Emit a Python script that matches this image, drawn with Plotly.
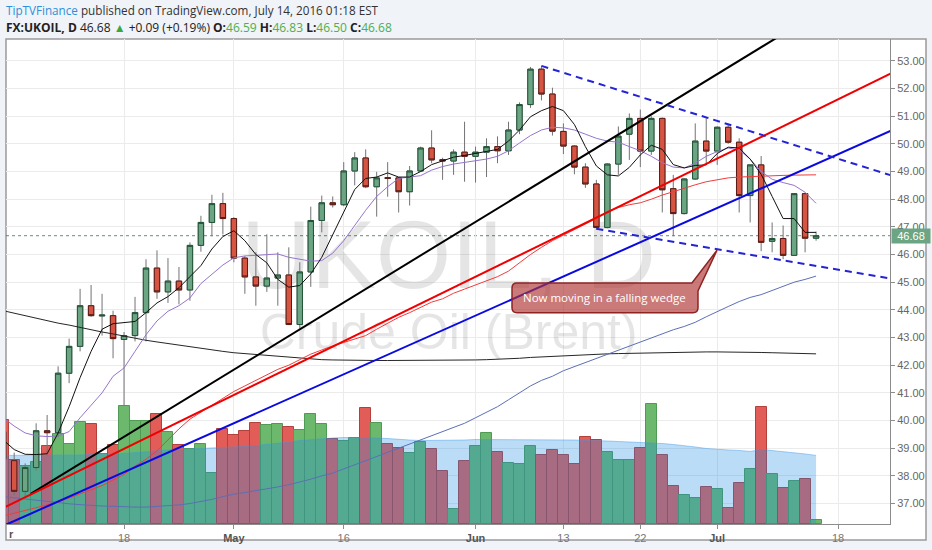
import plotly.graph_objects as go
import pandas as pd

# ---------------- data ----------------
calendar = [d.strftime("%Y-%m-%d") for d in pd.bdate_range("2016-04-01", "2016-07-29")]
n_bars = 75
dates = calendar[:n_bars]          # 2016-04-01 .. 2016-07-14 (weekdays)

opens = [39.60, 38.55, 37.44, 38.30, 39.63, 39.56, 41.71, 42.68, 44.15, 43.78,
         43.79, 42.93, 43.07, 43.90, 45.51, 44.65, 45.04, 44.72, 46.33, 47.16,
         47.84, 47.30, 45.87, 45.19, 44.86, 45.15, 45.26, 43.47, 45.37, 47.23,
         47.87, 47.80, 49.02, 49.49, 48.45, 48.78, 48.77, 48.27, 49.02, 49.85,
         49.43, 49.38, 49.70, 49.55, 49.70, 49.90, 49.75, 50.50, 51.42, 52.70,
         51.80, 50.45, 49.92, 49.16, 48.55, 46.98, 49.27, 50.35, 50.92, 49.74,
         50.92, 48.38, 47.48, 48.73, 50.10, 49.74, 50.60, 50.06, 48.13, 49.24,
         46.48, 46.58, 45.97, 48.20, 46.59]
highs = [39.90, 38.84, 38.45, 39.90, 40.20, 41.96, 42.96, 44.76, 44.90, 44.58,
         43.97, 43.20, 44.47, 45.83, 46.15, 45.87, 45.55, 46.44, 47.40, 48.16,
         48.23, 47.35, 45.95, 46.08, 46.73, 46.08, 46.26, 45.72, 47.73, 48.13,
         48.10, 49.34, 49.70, 49.80, 48.99, 49.34, 48.80, 49.20, 49.90, 50.49,
         49.50, 49.80, 50.80, 49.90, 50.20, 50.27, 50.80, 51.50, 52.78, 52.82,
         52.03, 50.74, 49.95, 49.30, 48.70, 49.30, 50.63, 51.10, 51.24, 51.00,
         50.95, 48.88, 48.75, 50.74, 50.96, 50.63, 50.70, 50.20, 49.24, 49.56,
         47.16, 47.05, 48.20, 48.23, 46.83]
lows = [38.40, 37.30, 37.25, 38.20, 38.73, 39.40, 41.35, 42.50, 43.75, 43.07,
        42.25, 40.55, 42.86, 42.86, 44.40, 44.25, 44.20, 44.33, 46.10, 46.66,
        46.73, 45.72, 44.58, 44.15, 44.65, 44.15, 43.45, 43.32, 44.83, 46.80,
        47.70, 47.75, 48.50, 48.40, 47.37, 48.09, 47.52, 47.77, 49.00, 49.30,
        48.70, 48.88, 48.63, 48.60, 48.80, 49.30, 49.60, 50.35, 51.30, 51.57,
        50.30, 49.63, 48.90, 48.41, 46.90, 46.95, 48.88, 49.42, 49.16, 49.60,
        47.52, 46.66, 47.45, 48.70, 49.30, 49.24, 50.00, 47.52, 47.16, 46.12,
        46.08, 45.83, 45.95, 46.08, 46.50]
closes = [38.60, 37.44, 38.30, 39.63, 39.56, 41.71, 42.68, 44.15, 43.79, 43.81,
          42.96, 43.07, 43.90, 45.51, 44.65, 45.04, 44.72, 46.33, 47.16, 47.84,
          47.30, 45.87, 45.19, 44.86, 45.15, 45.26, 43.47, 45.37, 47.23, 47.87,
          47.80, 49.02, 49.49, 48.45, 48.77, 48.75, 48.27, 49.02, 49.85, 49.42,
          49.38, 49.70, 49.55, 49.70, 49.90, 49.75, 50.50, 51.42, 52.70, 51.80,
          50.46, 49.92, 49.16, 48.55, 46.98, 49.27, 50.28, 50.92, 49.74, 50.92,
          48.34, 47.48, 48.73, 50.10, 49.74, 50.60, 50.06, 48.13, 49.24, 46.44,
          46.58, 45.97, 48.20, 46.59, 46.68]

# volume (arbitrary units, thousands)
volume = [105, 64, 58, 62, 78, 91, 80, 103, 101, 70,
          79, 119, 104, 104, 111, 93, 79, 75, 80, 51,
          96, 90, 94, 102, 100, 101, 98, 95, 111, 101,
          86, 84, 87, 117, 102, 80, 76, 71, 83, 75,
          53, 15, 63, 78, 92, 72, 61, 60, 78, 69,
          74, 69, 60, 88, 85, 72, 64, 64, 76, 121,
          69, 38, 29, 26, 37, 35, 16, 41, 55, 118,
          50, 36, 43, 45, 4]
volume_ma = [69, 69, 69, 69, 69, 69, 69, 69.5, 70, 70,
             70.5, 71, 72, 73, 74, 74.5, 75, 75.5, 76, 76,
             76.5, 77, 78, 79, 80, 81, 82.5, 84, 85, 86,
             86.5, 87, 87, 87, 86.5, 86, 85, 84.5, 84, 84,
             84, 84, 84.5, 85, 85, 85, 85, 85, 85, 85,
             85, 85, 84.5, 84, 84, 83.5, 83, 82.5, 82, 82,
             81, 80, 79, 77.5, 76, 75, 74.5, 74, 73, 75,
             74, 73, 72, 70.5, 69]

ma5 = [39.30, 38.95, 38.78, 38.77, 38.80, 39.55, 40.50, 41.55, 42.50, 43.30,
       43.50, 43.55, 43.58, 43.90, 44.25, 44.48, 44.80, 45.20, 45.60, 46.20,
       46.65, 46.86, 46.50, 46.00, 45.70, 45.10, 44.82, 44.88, 45.30, 45.90,
       46.70, 47.55, 48.35, 48.75, 48.80, 48.95, 48.80, 48.80, 49.00, 49.25,
       49.38, 49.52, 49.58, 49.65, 49.72, 49.80, 50.10, 50.50, 50.98, 51.20,
       51.35, 51.20, 50.70, 49.90, 49.20, 48.88, 48.84, 49.15, 49.60, 49.95,
       49.80, 49.25, 49.13, 49.22, 49.24, 49.65, 49.88, 49.85, 49.45, 48.90,
       48.10, 47.30, 47.30, 46.80, 46.80]
ma10 = [40.10, 39.80, 39.55, 39.45, 39.42, 39.44, 39.60, 40.10, 40.55, 41.00,
        41.60, 41.90, 42.50, 43.10, 43.60, 43.95, 44.15, 44.43, 44.95, 45.30,
        45.62, 45.88, 45.95, 45.97, 46.00, 46.02, 45.90, 45.82, 45.76, 45.78,
        46.05, 46.50, 47.05, 47.60, 48.10, 48.45, 48.75, 48.80, 48.85, 49.05,
        49.18, 49.27, 49.33, 49.40, 49.45, 49.55, 49.75, 50.03, 50.30, 50.50,
        50.60, 50.58, 50.50, 50.35, 50.20, 50.10, 50.06, 49.90, 49.75, 49.55,
        49.32, 49.16, 49.13, 49.30, 49.55, 49.72, 49.85, 49.78, 49.45, 49.00,
        48.72, 48.60, 48.50, 48.25, 47.85]
ma50 = [36.55, 36.65, 36.75, 36.85, 36.95, 37.05, 37.20, 37.35, 37.50, 37.65,
        37.85, 38.05, 38.35, 38.60, 38.90, 39.30, 39.70, 40.05, 40.30, 40.55,
        40.80, 41.05, 41.25, 41.45, 41.64, 41.85, 42.00, 42.20, 42.40, 42.55,
        42.70, 42.82, 42.95, 43.07, 43.30, 43.50, 43.73, 43.90, 44.10, 44.28,
        44.40, 44.60, 44.75, 44.90, 45.05, 45.20, 45.40, 45.70, 46.00, 46.26,
        46.50, 46.70, 46.90, 47.10, 47.30, 47.55, 47.70, 47.80, 47.87, 48.00,
        48.15, 48.27, 48.40, 48.52, 48.63, 48.70, 48.77, 48.80, 48.82, 48.84,
        48.85, 48.86, 48.87, 48.88, 48.88]
ma100 = [37.25, 37.20, 37.15, 37.12, 37.08, 37.03, 36.99, 36.96, 36.93, 36.91,
         36.90, 36.88, 36.87, 36.87, 36.89, 36.92, 36.95, 37.00, 37.07, 37.15,
         37.25, 37.34, 37.40, 37.46, 37.52, 37.60, 37.68, 37.77, 37.88, 38.00,
         38.10, 38.25, 38.40, 38.55, 38.70, 38.85, 39.00, 39.15, 39.30, 39.47,
         39.60, 39.75, 39.90, 40.10, 40.30, 40.50, 40.75, 41.00, 41.25, 41.45,
         41.60, 41.80, 41.95, 42.10, 42.25, 42.40, 42.55, 42.70, 42.85, 43.00,
         43.15, 43.28, 43.40, 43.55, 43.75, 43.95, 44.12, 44.30, 44.45, 44.55,
         44.70, 44.85, 45.00, 45.10, 45.22]
ma200 = [43.97, 43.88, 43.78, 43.68, 43.60, 43.52, 43.45, 43.36, 43.28, 43.20,
         43.13, 43.05, 42.98, 42.90, 42.84, 42.78, 42.73, 42.67, 42.60, 42.54,
         42.50, 42.45, 42.42, 42.38, 42.34, 42.31, 42.28, 42.25, 42.23, 42.20,
         42.19, 42.18, 42.18, 42.17, 42.17, 42.17, 42.17, 42.17, 42.17, 42.17,
         42.17, 42.18, 42.18, 42.19, 42.20, 42.21, 42.23, 42.25, 42.28, 42.30,
         42.33, 42.35, 42.37, 42.38, 42.40, 42.41, 42.42, 42.43, 42.44, 42.45,
         42.46, 42.47, 42.47, 42.48, 42.48, 42.48, 42.48, 42.47, 42.47, 42.46,
         42.45, 42.44, 42.43, 42.42, 42.41]

# hand-drawn trend lines: (bar position, price) end points
trend_black_x, trend_black_y = [2.5, 76.0], [37.35, 55.19]
trend_red_x, trend_red_y = [0.0, 81.0], [36.84, 52.58]
trend_blue_x, trend_blue_y = [0.0, 81.0], [36.19, 50.51]
wedge_top_x, wedge_top_y = [49.0, 81.0], [52.82, 48.84]
wedge_bot_x, wedge_bot_y = [54.0, 81.0], [46.93, 45.12]

tick_dates = ["2016-04-18", "2016-05-02", "2016-05-16", "2016-06-01",
              "2016-06-13", "2016-06-22", "2016-07-01", "2016-07-18"]
tick_labels = ["18", "May", "16", "Jun", "13", "22", "Jul", "18"]
price_ticks = list(range(37, 54))
last_price = 46.68

# ---------------- figure ----------------
xs = list(range(n_bars))
pos = {d: i for i, d in enumerate(calendar)}
tickvals = [pos[d] for d in tick_dates]
ticktext = []
for t in tick_labels:
    if t.isalpha():
        ticktext.append("<b><span style='color:#555'>%s</span></b>" % t)
    else:
        ticktext.append("<span style='color:#777'>%s</span>" % t)

up = [c >= o for o, c in zip(opens, closes)]
vol_colors = ["#6cb86c" if u else "#e25d58" for u in up]
vol_lines = ["#4f9a55" if u else "#b2403c" for u in up]

fig = go.Figure()

# watermark (base layer)
fig.add_trace(go.Scatter(x=[40.55], y=[262], text=["UKOIL, D"], mode="text",
                         textfont=dict(size=97, color="rgba(0,0,0,0.10)", family="Liberation Sans"),
                         hoverinfo="skip", showlegend=False, yaxis="y"))
fig.add_trace(go.Scatter(x=[40.55], y=[189], text=["Crude Oil (Brent)"], mode="text",
                         textfont=dict(size=50, color="rgba(0,0,0,0.10)", family="Liberation Sans"),
                         hoverinfo="skip", showlegend=False, yaxis="y"))

# volume + volume MA
fig.add_trace(go.Bar(x=xs, y=volume, width=1.0, marker=dict(color=vol_colors, line=dict(color=vol_lines, width=1)),
                     showlegend=False, yaxis="y"))
fig.add_trace(go.Scatter(x=xs, y=volume_ma, mode="lines", fill="tozeroy",
                         fillcolor="rgba(30,140,230,0.30)", line=dict(color="rgba(60,150,230,0.45)", width=1),
                         showlegend=False, yaxis="y"))

# candles: wicks (grey) then bodies
fig.add_trace(go.Candlestick(x=xs, open=opens, high=highs, low=lows, close=closes, yaxis="y2",
                             increasing=dict(line=dict(color="#737375", width=1), fillcolor="#737375"),
                             decreasing=dict(line=dict(color="#737375", width=1), fillcolor="#737375"),
                             whiskerwidth=0, showlegend=False, hoverinfo="skip"))
fig.add_trace(go.Candlestick(x=xs, open=opens, close=closes,
                             high=[max(o, c) for o, c in zip(opens, closes)],
                             low=[min(o, c) for o, c in zip(opens, closes)], yaxis="y2",
                             increasing=dict(line=dict(color="#225437", width=1), fillcolor="#6ba583"),
                             decreasing=dict(line=dict(color="#5b1a13", width=1), fillcolor="#d75442"),
                             whiskerwidth=0, showlegend=False))

# moving averages
for ys, col in [(ma200, "#262626"), (ma100, "#5b6fb5"), (ma50, "#f03c3c"), (ma10, "#9575cd"), (ma5, "#111111")]:
    fig.add_trace(go.Scatter(x=xs, y=ys, mode="lines", line=dict(color=col, width=1),
                             showlegend=False, yaxis="y2", hoverinfo="skip"))

# trend lines
for tx, ty, col, dash in [(trend_black_x, trend_black_y, "#000000", "solid"),
                          (trend_red_x, trend_red_y, "#f00000", "solid"),
                          (trend_blue_x, trend_blue_y, "#0a0ae0", "solid"),
                          (wedge_top_x, wedge_top_y, "#2424d6", "7px,5px"),
                          (wedge_bot_x, wedge_bot_y, "#2424d6", "7px,5px")]:
    fig.add_trace(go.Scatter(x=tx, y=ty, mode="lines", line=dict(color=col, width=2, dash=dash),
                             showlegend=False, yaxis="y2", hoverinfo="skip"))

# ---------------- layout ----------------
W, H = 932, 550
ml, mr, mt, mb = 6, 42, 39, 23
pw, ph = W - ml - mr, H - mt - mb

def px_x(p):
    return (p - ml) / pw

def px_y(p):
    return (H - mb - p) / ph

grid = "#ebebeb"
axis_col = "#8c8c8c"

fig.update_layout(
    width=W, height=H, margin=dict(l=ml, r=mr, t=mt, b=mb, pad=0),
    paper_bgcolor="#f0f3f8", plot_bgcolor="#ffffff",
    showlegend=False, bargap=0,
    font=dict(family="Liberation Sans", size=11, color="#555"),
    xaxis=dict(range=[0.255, 80.73], tickvals=tickvals, ticktext=ticktext,
               showgrid=True, gridcolor=grid, gridwidth=1, zeroline=False,
               showline=True, linecolor=axis_col, linewidth=1,
               ticks="outside", ticklen=4, tickcolor=axis_col,
               tickfont=dict(size=11, family="Liberation Sans"),
               rangeslider=dict(visible=False), fixedrange=True),
    yaxis=dict(range=[0, ph], visible=False, showgrid=False, zeroline=False, fixedrange=True),
    yaxis2=dict(overlaying="y", side="right", range=[36.26, 53.79],
                tickvals=price_ticks, ticktext=["%.2f" % v for v in price_ticks],
                showgrid=True, gridcolor=grid, gridwidth=1, zeroline=False,
                showline=True, linecolor=axis_col, linewidth=1,
                ticks="outside", ticklen=4, tickcolor=axis_col,
                tickfont=dict(size=11, color="#666", family="Liberation Sans"), fixedrange=True),
)

# callout geometry (bar position / price)
bx0, bx1, by0, by1 = 46.32, 63.25, 43.896, 44.971
rx, ry = 0.45, 0.18
callout = (f"M {bx0+rx},{by1} L 62.70,{by1} L 64.98,46.154 L {bx1},44.685 "
           f"L {bx1},{by0+ry} Q {bx1},{by0} {bx1-rx},{by0} "
           f"L {bx0+rx},{by0} Q {bx0},{by0} {bx0},{by0+ry} "
           f"L {bx0},{by1-ry} Q {bx0},{by1} {bx0+rx},{by1} Z")

fig.update_layout(shapes=[
    dict(type="rect", xref="paper", yref="paper", x0=px_x(6), x1=px_x(926), y0=px_y(543), y1=px_y(39),
         fillcolor="#ffffff", line=dict(color="#9a9a9a", width=1.5), layer="below"),
    dict(type="line", xref="paper", yref="y2", x0=0, x1=1, y0=last_price, y1=last_price,
         line=dict(color="rgba(70,120,95,0.85)", width=1, dash="dot"), layer="between"),
    dict(type="path", xref="x", yref="y2", path=callout,
         fillcolor="rgba(175,50,50,0.65)", line=dict(color="#8e2424", width=1.5), layer="above"),
])

header1 = ("<span style='color:#2f8fd8'>TipTVFinance</span>"
           "<span style='color:#333'> published on TradingView.com, July 14, 2016 01:18 EST</span>")
g = "#4caf50"
header2 = ("<b>FX:UKOIL, D</b> 46.68 <span style='color:#3aa83a'>▲</span> +0.09 (+0.19%) "
           f"<b>O:</b><span style='color:{g}'>46.59</span> "
           f"<b>H:</b><span style='color:{g}'>46.83</span> "
           f"<b>L:</b><span style='color:{g}'>46.50</span> "
           f"<b>C:</b><span style='color:{g}'>46.68</span>")

fig.update_layout(annotations=[
    dict(xref="paper", yref="paper", x=px_x(4), y=px_y(10), xanchor="left", yanchor="middle",
         text=header1, showarrow=False, font=dict(family="Open Sans", size=11.7, color="#333")),
    dict(xref="paper", yref="paper", x=px_x(4), y=px_y(27), xanchor="left", yanchor="middle",
         text=header2, showarrow=False, font=dict(family="Open Sans", size=12, color="#222")),
    dict(xref="paper", yref="y2", x=1, y=last_price, xanchor="left", yanchor="middle", xshift=1,
         text="46.68", showarrow=False, bgcolor="#6ba583", width=36, borderpad=1,
         font=dict(family="Liberation Sans", size=11, color="#ffffff")),
    dict(xref="x", yref="y2", x=54.78, y=44.43, text="Now moving in a falling wedge",
         showarrow=False, font=dict(family="Open Sans", size=11.5, color="#ffffff")),
    dict(xref="paper", yref="paper", x=px_x(11), y=px_y(537), xanchor="center", yanchor="middle",
         text="<b>r</b>", showarrow=False, font=dict(family="Liberation Sans", size=11, color="#555")),
])

fig.write_html("out.html", config={"displayModeBar": False},
               post_script="document.body.style.margin='0px';")
